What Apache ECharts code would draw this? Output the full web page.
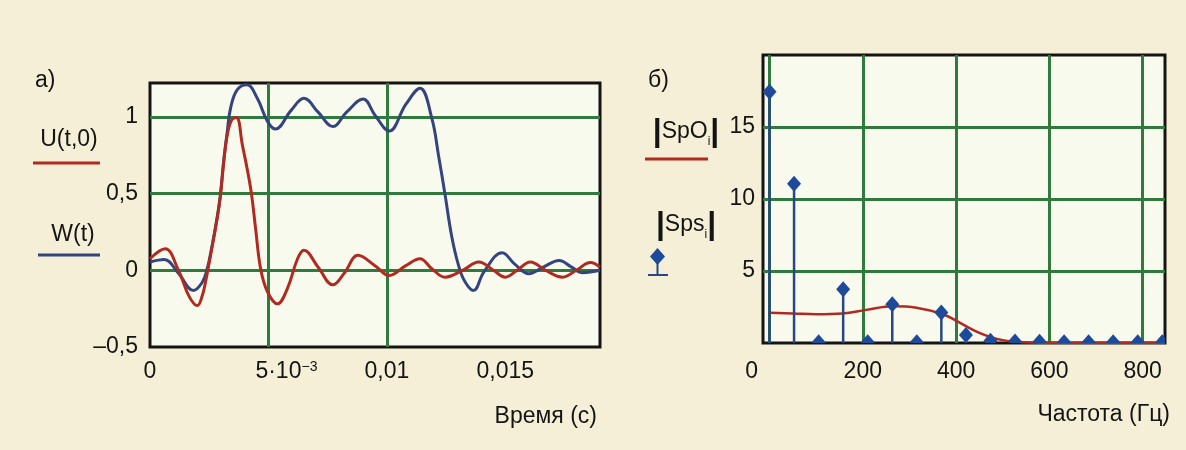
<!DOCTYPE html>
<html><head><meta charset="utf-8">
<script src="https://cdn.jsdelivr.net/npm/echarts@6/dist/echarts.min.js"></script>
<style>html,body{margin:0;padding:0;background:#f4efd6;}#c{width:1186px;height:450px;}</style>
</head><body><div id="c"></div>
<script>
// ---- panel а): W(t) and U(t,0) ----
const wTimes  = [0, 0.0006, 0.0012, 0.00184, 0.0022, 0.0024, 0.00262, 0.00283, 0.00297, 0.00311, 0.00326, 0.0034, 0.00368, 0.0041, 0.00453, 0.00496, 0.0053, 0.00595, 0.0065, 0.0071, 0.00772, 0.0083, 0.009, 0.0095, 0.0101, 0.0108, 0.0114, 0.0119, 0.01218, 0.01246, 0.01274, 0.01303, 0.0133, 0.01366, 0.0141, 0.01487, 0.0154, 0.016, 0.0166, 0.01728, 0.0178, 0.01827, 0.019];
const wValues = [0.054, 0.07, -0.02, -0.132, -0.08, 0.0, 0.16, 0.34, 0.49, 0.71, 0.9, 1.055, 1.175, 1.208, 1.12, 0.97, 0.92, 1.04, 1.12, 1.03, 0.936, 1.03, 1.116, 1.01, 0.907, 1.08, 1.186, 0.99, 0.75, 0.49, 0.22, 0.03, -0.075, -0.132, -0.01, 0.114, 0.04, -0.023, 0.02, 0.064, 0.02, -0.016, 0.0];
const uTimes  = [0, 0.00064, 0.0012, 0.00165, 0.002, 0.0022, 0.00234, 0.00262, 0.00283, 0.00297, 0.00311, 0.00326, 0.00345, 0.00365, 0.0039, 0.00425, 0.00446, 0.00467, 0.00496, 0.00538, 0.0058, 0.00623, 0.0065, 0.0071, 0.00772, 0.0082, 0.00878, 0.0095, 0.0101, 0.0108, 0.0114, 0.0119, 0.01246, 0.0132, 0.01388, 0.0145, 0.015, 0.0155, 0.01606, 0.0167, 0.01742, 0.018, 0.0186, 0.019];
const uValues = [0.075, 0.14, 0.0, -0.17, -0.23, -0.17, -0.08, 0.15, 0.33, 0.48, 0.7, 0.88, 0.98, 0.995, 0.816, 0.533, 0.27, 0.01, -0.14, -0.219, -0.12, 0.075, 0.13, 0.02, -0.095, -0.02, 0.097, 0.03, -0.034, 0.03, 0.075, 0.01, -0.045, 0.0, 0.054, 0.0, -0.045, 0.0, 0.054, 0.0, -0.045, 0.0, 0.05, 0.02];
const leftXTickValues = [0, 0.005, 0.01, 0.015];
const leftXTickLabels = ['0', '5·10^−3', '0,01', '0,015'];
const leftYTickValues = [-0.5, 0, 0.5, 1];
const leftYTickLabels = ['–0,5', '0', '0,5', '1'];

// ---- panel б): spectra ----
const harmonicFreqs = [0, 52.6, 105.3, 157.9, 210.5, 263.2, 315.8, 368.4, 421.1, 473.7, 526.3, 578.9, 631.6, 684.2, 736.8, 789.5, 842.1];
const harmonicAmps  = [17.45, 11.06, 0.05, 3.73, 0.05, 2.69, 0.05, 2.11, 0.55, 0.15, 0.1, 0.08, 0.05, 0.05, 0.05, 0.05, 0.05];
const spoFreqs = [0, 50, 100, 157, 207, 265, 315, 372, 400, 425, 450, 475, 500, 530, 560, 600, 700, 848];
const spoAmps  = [2.1, 2.05, 2.0, 2.05, 2.3, 2.55, 2.45, 2.0, 1.55, 1.1, 0.7, 0.4, 0.2, 0.08, 0.03, 0.02, 0.02, 0.02];
const rightXTickValues = [0, 200, 400, 600, 800];
const rightXTickLabels = ['0', '200', '400', '600', '800'];
const rightYTickValues = [5, 10, 15];
const rightYTickLabels = ['5', '10', '15'];

const zip = (a, b) => a.map((v, i) => [v, b[i]]);
const labelFor = (vals, labels, v) => {
  for (let i = 0; i < vals.length; i++) if (Math.abs(vals[i] - v) < 1e-9) return labels[i];
  return '';
};

const FONT = '"Liberation Sans", Arial, sans-serif';
const GREEN = '#2f7a3c';
const RED = '#b02a1f';
const BLUE = '#33447e';
const DIAMOND = '#1e4a9b';
const TXT = '#141414';
const base = {fontSize: 23, fontFamily: FONT, color: TXT};

const chart = echarts.init(document.getElementById('c'), null, {renderer: 'canvas'});

const gridStyle = {show: true, backgroundColor: '#f9faee', borderColor: '#141414', borderWidth: 3, containLabel: false, outerBoundsMode: 'none'};

const option = {
  backgroundColor: '#f4efd6',
  animation: false,
  grid: [
    Object.assign({left: 150, top: 83, width: 450, height: 264}, gridStyle),
    Object.assign({left: 763, top: 55, width: 402, height: 288}, gridStyle)
  ],
  xAxis: [
    {
      gridIndex: 0, type: 'value', min: 0, max: 0.019,
      axisLine: {show: false}, axisTick: {show: false, customValues: leftXTickValues},
      axisLabel: Object.assign({
        customValues: leftXTickValues, margin: 13,
        formatter: v => {
          const s = labelFor(leftXTickValues, leftXTickLabels, v);
          if (s.indexOf('^') >= 0) { const p = s.split('^'); return '{sh|' + p[0] + '}{sp|' + p[1] + '}'; }
          return '{n|' + s + '}';
        },
        rich: {
          n: Object.assign({}, base),
          sh: Object.assign({padding: [0, 0, 0, 36]}, base),
          sp: {fontSize: 14, fontFamily: FONT, color: TXT, verticalAlign: 'top'}
        }
      }, base),
      splitLine: {show: true, showMinLine: false, showMaxLine: false, lineStyle: {color: GREEN, width: 3}}
    },
    {
      gridIndex: 1, type: 'value', min: -14, max: 848,
      axisLine: {show: false}, axisTick: {show: false, customValues: rightXTickValues},
      axisLabel: Object.assign({
        customValues: rightXTickValues, margin: 17,
        formatter: v => {
          const s = labelFor(rightXTickValues, rightXTickLabels, v);
          return v === 0 ? '{z|' + s + '}' : '{n|' + s + '}';
        },
        rich: {
          n: Object.assign({}, base),
          z: Object.assign({padding: [0, 36, 0, 0]}, base)
        }
      }, base),
      splitLine: {show: true, lineStyle: {color: GREEN, width: 3}}
    }
  ],
  yAxis: [
    {
      gridIndex: 0, type: 'value', min: -0.5, max: 1.22,
      axisLine: {show: false}, axisTick: {show: false, customValues: leftYTickValues},
      axisLabel: Object.assign({customValues: leftYTickValues, margin: 12,
        formatter: v => labelFor(leftYTickValues, leftYTickLabels, v)}, base),
      splitLine: {show: true, showMinLine: false, lineStyle: {color: GREEN, width: 3}}
    },
    {
      gridIndex: 1, type: 'value', min: 0, max: 20,
      axisLine: {show: false}, axisTick: {show: false, customValues: rightYTickValues},
      axisLabel: Object.assign({customValues: rightYTickValues, margin: 8,
        formatter: v => labelFor(rightYTickValues, rightYTickLabels, v)}, base),
      splitLine: {show: true, lineStyle: {color: GREEN, width: 3}}
    }
  ],
  series: [
    {type: 'line', xAxisIndex: 0, yAxisIndex: 0, data: zip(wTimes, wValues), smooth: 0.4, showSymbol: false,
      lineStyle: {color: BLUE, width: 3}, z: 3},
    {type: 'line', xAxisIndex: 0, yAxisIndex: 0, data: zip(uTimes, uValues), smooth: 0.4, showSymbol: false,
      lineStyle: {color: RED, width: 3}, z: 4},
    {type: 'line', xAxisIndex: 1, yAxisIndex: 1, data: zip(spoFreqs, spoAmps), smooth: 0.4, showSymbol: false,
      lineStyle: {color: RED, width: 2.5}, z: 3},
    {type: 'custom', xAxisIndex: 1, yAxisIndex: 1, clip: true, z: 4,
      encode: {x: 0, y: 1},
      data: zip(harmonicFreqs, harmonicAmps),
      renderItem: (params, api) => {
        const p = api.coord([api.value(0), api.value(1)]);
        const p0 = api.coord([api.value(0), 0]);
        return {type: 'group', children: [
          {type: 'line', shape: {x1: p0[0], y1: p0[1], x2: p[0], y2: p[1]}, style: {stroke: '#2a4784', lineWidth: 2.5}},
          {type: 'polygon', shape: {points: [[p[0], p[1] - 8], [p[0] + 7, p[1]], [p[0], p[1] + 8], [p[0] - 7, p[1]]]},
            style: {fill: DIAMOND}}
        ]};
      }
    }
  ],
  graphic: [
    {type: 'text', x: 35, y: 81, style: {text: 'а)', fontSize: 23, fontFamily: FONT, fill: TXT, align: 'left', verticalAlign: 'middle'}},
    {type: 'text', x: 69, y: 140, style: {text: 'U(t,0)', fontSize: 23, fontFamily: FONT, fill: TXT, align: 'center', verticalAlign: 'middle'}},
    {type: 'line', shape: {x1: 33, y1: 163, x2: 100, y2: 163}, style: {stroke: RED, lineWidth: 3}},
    {type: 'text', x: 73, y: 235, style: {text: 'W(t)', fontSize: 23, fontFamily: FONT, fill: TXT, align: 'center', verticalAlign: 'middle'}},
    {type: 'line', shape: {x1: 38, y1: 255, x2: 100, y2: 255}, style: {stroke: BLUE, lineWidth: 3}},
    {type: 'text', x: 597, y: 417, style: {text: 'Время (с)', fontSize: 23, fontFamily: FONT, fill: TXT, align: 'right', verticalAlign: 'middle'}},

    {type: 'text', x: 648, y: 81, style: {text: 'б)', fontSize: 23, fontFamily: FONT, fill: TXT, align: 'left', verticalAlign: 'middle'}},
    {type: 'text', x: 686, y: 132, style: {text: '{b||}{t|SpO}{s|i}{b||}', align: 'center', verticalAlign: 'middle',
      rich: {b: {fontSize: 32, fontFamily: FONT, fill: TXT, fontWeight: 'bold'}, t: {fontSize: 23, fontFamily: FONT, fill: TXT}, s: {fontSize: 12, fontFamily: FONT, fill: TXT, verticalAlign: 'bottom'}}}},
    {type: 'line', shape: {x1: 645, y1: 159, x2: 708, y2: 159}, style: {stroke: RED, lineWidth: 3}},
    {type: 'text', x: 686, y: 225, style: {text: '{b||}{t|Sps}{s|i}{b||}', align: 'center', verticalAlign: 'middle',
      rich: {b: {fontSize: 32, fontFamily: FONT, fill: TXT, fontWeight: 'bold'}, t: {fontSize: 23, fontFamily: FONT, fill: TXT}, s: {fontSize: 12, fontFamily: FONT, fill: TXT, verticalAlign: 'bottom'}}}},
    {type: 'line', shape: {x1: 657.5, y1: 256, x2: 657.5, y2: 275}, style: {stroke: '#2a4784', lineWidth: 2}},
    {type: 'line', shape: {x1: 648, y1: 275, x2: 668, y2: 275}, style: {stroke: '#2a4784', lineWidth: 2}},
    {type: 'polygon', shape: {points: [[657.5, 248], [665, 256.5], [657.5, 265], [650, 256.5]]}, style: {fill: DIAMOND}},
    {type: 'text', x: 1170, y: 415, style: {text: 'Частота (Гц)', fontSize: 23, fontFamily: FONT, fill: TXT, align: 'right', verticalAlign: 'middle'}}
  ]
};
chart.setOption(option);
</script></body></html>
